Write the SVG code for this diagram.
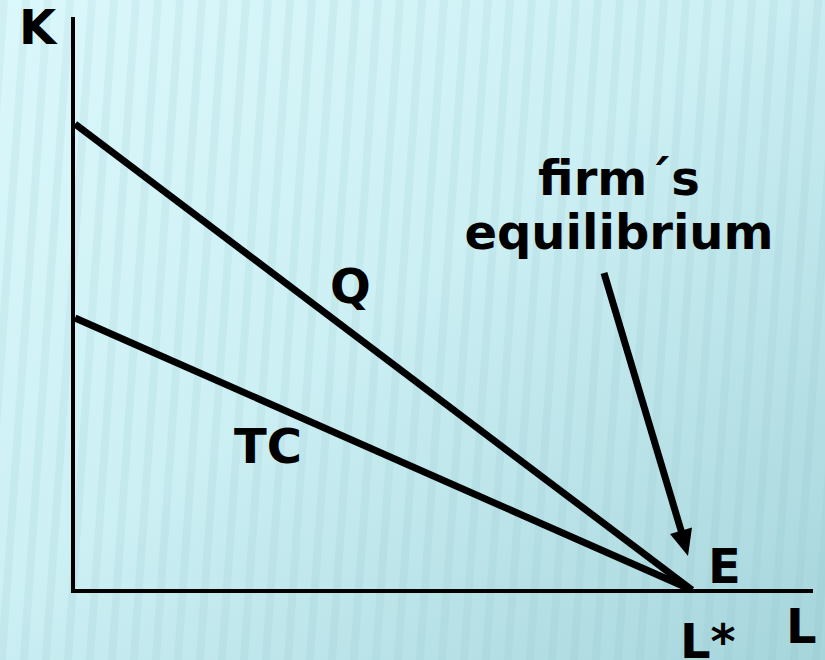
<svg xmlns="http://www.w3.org/2000/svg" width="825" height="660" viewBox="0 0 825 660">
  <defs>
    <linearGradient id="bg" x1="0" y1="0" x2="1" y2="1">
      <stop offset="0" stop-color="#dbf8fb"/>
      <stop offset="0.45" stop-color="#cdf0f4"/>
      <stop offset="1" stop-color="#a6d5dc"/>
    </linearGradient>
    <pattern id="stripes" width="22" height="660" patternUnits="userSpaceOnUse" patternTransform="skewX(-4)">
      <rect x="0" y="0" width="8" height="660" fill="#7fb9c2" opacity="0.13"/>
    </pattern>
    <style>
      .lbl { font-family: "DejaVu Sans", Verdana, sans-serif; font-weight: bold; font-size: 48px; fill: #000; }
      .axis { stroke: #000; stroke-width: 4; fill: none; }
      .curve { stroke: #000; stroke-width: 7; fill: none; stroke-linecap: butt; }
      .head { fill: #000; }
    </style>
  </defs>
  <rect width="825" height="660" fill="url(#bg)"/>
  <rect width="825" height="660" fill="url(#stripes)"/>

  <g id="connectors">
    <line class="axis" x1="73" y1="17" x2="73" y2="593"/>
    <line class="axis" x1="71" y1="591" x2="813" y2="591"/>
    <line class="curve" x1="75" y1="124" x2="692" y2="590"/>
    <line class="curve" x1="75" y1="318" x2="692" y2="590"/>
    <line class="curve" x1="604" y1="273" x2="681.5" y2="532"/>
    <polygon class="head" points="688,556 692,527.5 670,534"/>
  </g>

  <g id="axis-K"><text class="lbl" x="19" y="44">K</text></g>
  <g id="axis-L"><text class="lbl" x="786" y="643">L</text></g>
  <g id="curve-Q"><text class="lbl" x="330" y="303">Q</text></g>
  <g id="curve-TC"><text class="lbl" x="234" y="463">TC</text></g>
  <g id="point-E"><text class="lbl" x="708" y="583">E</text></g>
  <g id="label-Lstar"><text class="lbl" x="680" y="658">L*</text></g>
  <g id="label-equilibrium">
    <text class="lbl" x="619" y="195" text-anchor="middle">firm´s</text>
    <text class="lbl" x="619" y="249" text-anchor="middle">equilibrium</text>
  </g>
</svg>
